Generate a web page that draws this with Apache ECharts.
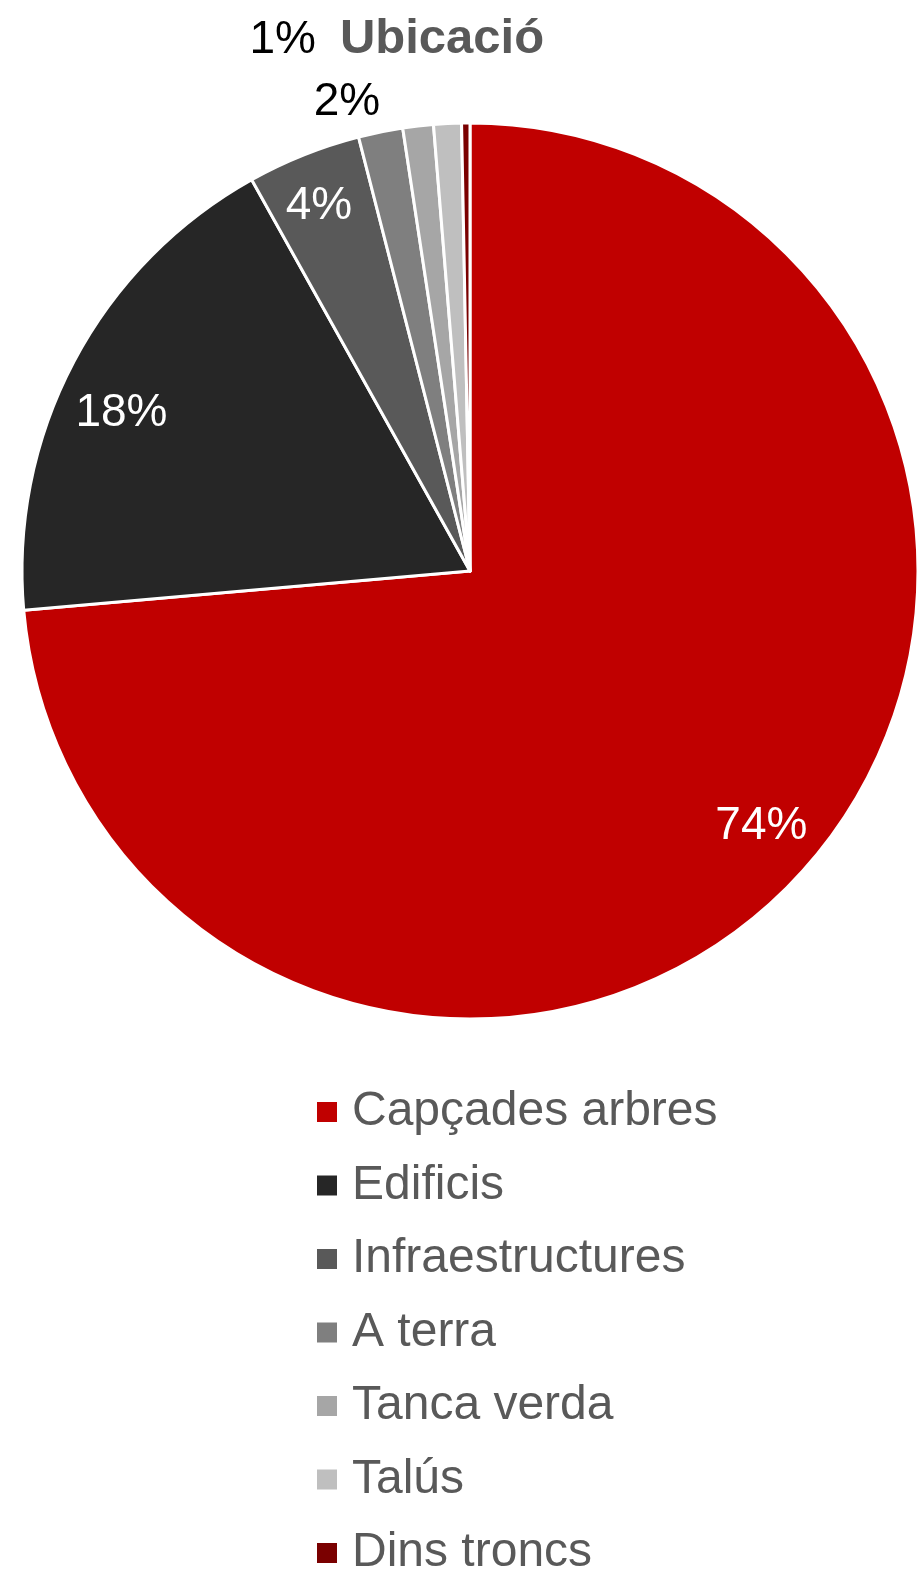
<!DOCTYPE html>
<html>
<head>
<meta charset="utf-8">
<script src="https://cdn.jsdelivr.net/npm/echarts@6/dist/echarts.min.js"></script>
<style>
html,body{margin:0;padding:0;background:#fff;}
#chart{width:919px;height:1569px;}
</style>
</head>
<body>
<div id="chart"></div>
<script>
const categories = ['Capçades arbres', 'Edificis', 'Infraestructures', 'A terra', 'Tanca verda', 'Talús', 'Dins troncs'];
const values = [73.6, 18.3, 4.1, 1.6, 1.1, 1.0, 0.3];
const colors = ['#C00000', '#262626', '#595959', '#7F7F7F', '#A6A6A6', '#BFBFBF', '#7A0000'];
const labelShown = [true, true, true, true, true, false, false];
const labelColors = ['#ffffff', '#ffffff', '#ffffff', '#000000', '#000000', '#000000', '#000000'];

const FONT = "'Liberation Sans', Arial, sans-serif";
const chart = echarts.init(document.getElementById('chart'), null, {renderer: 'canvas'});

const mainData = categories.map((c, i) => ({
  name: c, value: values[i], itemStyle: {color: colors[i]}
}));
const labelData = categories.map((c, i) => ({
  name: c, value: values[i],
  label: {show: labelShown[i], color: labelColors[i]}
}));

// small label nudges (Excel-style label placement)
const labelNudge = [[3, -9], [-3, 25], [-6, -2], [-45, -86], [-142, -142], [0, 0], [0, 0]];

chart.setOption({
  animation: false,
  backgroundColor: '#ffffff',
  title: {
    text: 'Ubicació',
    left: 437,
    top: 10,
    textAlign: 'center',
    textStyle: {fontFamily: FONT, fontSize: 49, fontWeight: 'bold', color: '#595959'}
  },
  legend: {
    data: categories,
    orient: 'vertical',
    left: 312,
    top: 1082,
    height: 700,
    itemWidth: 20,
    itemHeight: 20,
    itemGap: 23.5,
    icon: 'rect',
    selectedMode: false,
    itemStyle: {borderWidth: 0},
    textStyle: {fontFamily: FONT, fontSize: 48, color: '#595959', lineHeight: 50, padding: [0, 0, 0, 10]}
  },
  series: [
    {
      type: 'pie',
      center: [470, 571],
      radius: [0, 448],
      startAngle: 90,
      clockwise: true,
      avoidLabelOverlap: false,
      label: {show: false},
      labelLine: {show: false},
      emphasis: {disabled: true},
      silent: true,
      itemStyle: {borderColor: '#ffffff', borderWidth: 3},
      data: mainData
    },
    {
      type: 'pie',
      center: [470, 571],
      radius: [336, 440],
      startAngle: 90,
      clockwise: true,
      avoidLabelOverlap: false,
      silent: true,
      emphasis: {disabled: true},
      itemStyle: {color: 'rgba(0,0,0,0)', borderWidth: 0},
      labelLine: {show: false},
      label: {
        position: 'inside',
        fontFamily: FONT,
        fontSize: 46,
        formatter: p => Math.round(p.value) + '%'
      },
      labelLayout: function (p) {
        const n = labelNudge[p.dataIndex];
        return {dx: n[0], dy: n[1]};
      },
      data: labelData
    }
  ]
});
</script>
</body>
</html>
